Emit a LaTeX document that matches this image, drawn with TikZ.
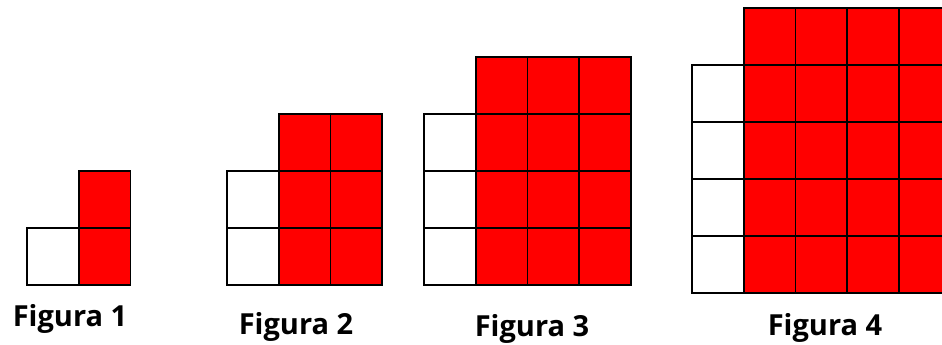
\documentclass[tikz,border=0pt]{standalone}
\usepackage{fontspec}
\setmainfont{Open Sans}
\usepackage{xcolor}
\usetikzlibrary{calc}
\definecolor{cellred}{RGB}{255,0,0}

\begin{document}
\begin{tikzpicture}[x=1pt,y=-1pt,line width=1.8pt,
  redcell/.style={fill=cellred,draw=black},
  whitecell/.style={fill=white,draw=black},
  caption/.style={font=\fontsize{29}{32}\selectfont\bfseries,anchor=base,inner sep=0pt}]
\useasboundingbox (0,0) rectangle (942,345);
\clip (0,0) rectangle (942,345);
% figure n: n white cells, n red columns of n+1 cells
\foreach \n/\xl/\yb in {1/27/285,2/227/285,3/424/285,4/692/293}{
  \foreach \i in {1,...,\n}
    \draw[whitecell] (\xl,{\yb-\i*57}) rectangle ++(51.7,57);
  \foreach \c in {1,...,\n}
    \foreach \r in {0,...,\n}
      \draw[redcell] ({\xl+\c*51.7},{\yb-(\r+1)*57}) rectangle ++(51.7,57);
}
\node[caption] (cap1) at (70,326) {Figura 1};
\node[caption] (cap2) at (296,334) {Figura 2};
\node[caption] (cap3) at (532,336) {Figura 3};
\node[caption] (cap4) at (825,335) {Figura 4};
\end{tikzpicture}
\end{document}
